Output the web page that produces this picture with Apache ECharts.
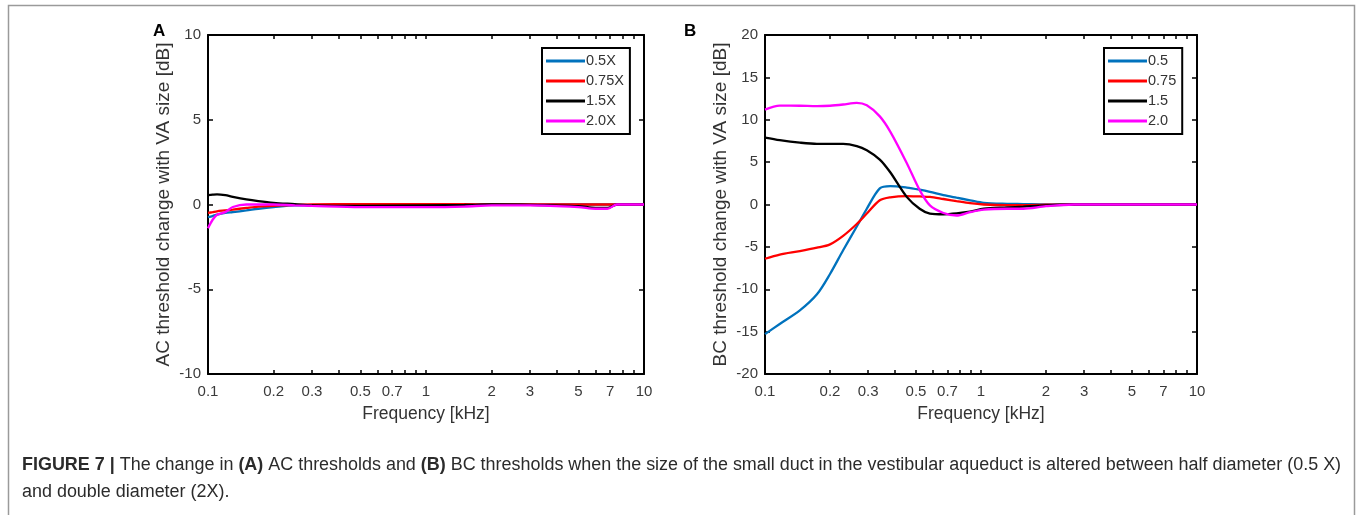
<!DOCTYPE html>
<html>
<head>
<meta charset="utf-8">
<script src="https://cdn.jsdelivr.net/npm/echarts@6/dist/echarts.min.js"></script>
<style>
  html, body { margin: 0; padding: 0; background: #fff; }
  #main { width: 1362px; height: 515px; }
</style>
</head>
<body>
<div id="main"></div>
<script>
// frequency grids (kHz)
var freqA = [0.1, 0.105, 0.11, 0.12, 0.13, 0.15, 0.17, 0.2, 0.25, 0.3, 0.5, 1, 1.5, 2, 3, 5, 6, 6.8, 7.5, 8, 10];
var freqB = [0.1, 0.117, 0.145, 0.174, 0.2, 0.23, 0.266, 0.296, 0.34, 0.38, 0.453, 0.52, 0.58, 0.67, 0.77, 0.89, 1.03, 1.32, 1.57, 2.0, 2.7, 4, 6, 10];

// panel A: AC threshold change [dB]
var acHalf   = [-0.75, -0.68, -0.6, -0.5, -0.45, -0.35, -0.25, -0.15, -0.05, -0.05, -0.05, -0.03, -0.02, 0, 0, 0, 0, 0, 0, 0, 0];
var acThreeQ = [-0.5, -0.45, -0.4, -0.35, -0.3, -0.2, -0.12, -0.08, -0.02, 0, 0.02, 0.02, 0.02, 0, 0, 0, 0, 0, 0, 0, 0];
var acOneHalf = [0.55, 0.58, 0.6, 0.55, 0.45, 0.3, 0.2, 0.1, 0.02, -0.05, -0.08, -0.05, -0.03, 0, -0.02, -0.1, -0.2, -0.2, 0, 0, 0];
var acDouble = [-1.4, -0.9, -0.6, -0.45, -0.15, 0, 0, 0, -0.05, -0.08, -0.15, -0.15, -0.12, -0.05, -0.05, -0.15, -0.25, -0.25, 0, 0, 0];

// panel B: BC threshold change [dB]
var bcHalf   = [-15.3, -14.1, -12.5, -10.6, -8.2, -5.4, -2.6, -0.5, 1.9, 2.17, 2.0, 1.75, 1.5, 1.1, 0.8, 0.5, 0.2, 0.08, 0.05, 0, 0, 0, 0, 0];
var bcThreeQ = [-6.4, -5.9, -5.5, -5.1, -4.7, -3.7, -2.3, -1.07, 0.5, 0.85, 1.0, 0.95, 0.9, 0.65, 0.4, 0.15, 0, -0.08, -0.08, -0.02, 0, 0, 0, 0];
var bcOneHalf = [7.9, 7.6, 7.3, 7.15, 7.15, 7.15, 6.9, 6.4, 5.3, 3.8, 0.9, -0.5, -1.07, -1.15, -1.05, -0.85, -0.5, -0.35, -0.25, -0.1, 0, 0, 0, 0];
var bcDouble = [11.2, 11.66, 11.65, 11.6, 11.65, 11.8, 12.0, 11.7, 10.4, 8.6, 4.9, 1.7, -0.1, -1.0, -1.3, -0.9, -0.6, -0.5, -0.5, -0.2, 0, 0, 0, 0];

var namesA = ['0.5X', '0.75X', '1.5X', '2.0X'];
var namesB = ['0.5', '0.75', '1.5', '2.0'];
var colors = ['#0072BD', '#FF0000', '#000000', '#FF00FF'];

var labelTicks = [0.1, 0.2, 0.3, 0.5, 0.7, 1, 2, 3, 5, 7, 10];
var allTicks = [0.1, 0.2, 0.3, 0.4, 0.5, 0.6, 0.7, 0.8, 0.9, 1, 2, 3, 4, 5, 6, 7, 8, 9, 10];

function pairs(xs, ys) {
    return xs.map(function (x, i) { return [x, ys[i]]; });
}

var chart = echarts.init(document.getElementById('main'));

var FONT = 'Liberation Sans, Arial, sans-serif';
var axisLine = { onZero: false, lineStyle: { color: '#000', width: 2 } };
var labelStyle = { color: '#3a3a3a', fontSize: 15, fontFamily: FONT };

function xBottom(gi) {
    return {
        type: 'log', logBase: 10, min: 0.1, max: 10, gridIndex: gi,
        position: 'bottom',
        name: 'Frequency [kHz]', nameLocation: 'middle', nameGap: 31,
        nameTextStyle: { color: '#333', fontSize: 17.5, fontFamily: FONT },
        axisLine: axisLine,
        axisTick: { inside: true, length: 4, customValues: allTicks, lineStyle: { color: '#000', width: 1.5 } },
        axisLabel: Object.assign({ customValues: labelTicks, margin: 10, formatter: function (v) { return String(+v.toPrecision(3)); } }, labelStyle),
        splitLine: { show: false }, minorTick: { show: false }
    };
}
function xTop(gi) {
    return {
        type: 'log', logBase: 10, min: 0.1, max: 10, gridIndex: gi,
        position: 'top',
        axisLine: axisLine,
        axisTick: { inside: true, length: 4, customValues: allTicks, lineStyle: { color: '#000', width: 1.5 } },
        axisLabel: { show: false },
        splitLine: { show: false }
    };
}
function yLeft(gi, lo, hi, title) {
    return {
        type: 'value', min: lo, max: hi, interval: 5, gridIndex: gi,
        position: 'left',
        name: title, nameLocation: 'middle', nameGap: 35,
        nameTextStyle: { color: '#333', fontSize: 19, fontFamily: FONT },
        axisLine: Object.assign({ show: true }, axisLine),
        axisTick: { show: true, inside: true, length: 5, lineStyle: { color: '#000', width: 1.5 } },
        axisLabel: Object.assign({ margin: 7 }, labelStyle),
        splitLine: { show: false }
    };
}
function yRight(gi, lo, hi) {
    return {
        type: 'value', min: lo, max: hi, interval: 5, gridIndex: gi,
        position: 'right',
        axisLine: Object.assign({ show: true }, axisLine),
        axisTick: { show: true, inside: true, length: 5, lineStyle: { color: '#000', width: 1.5 } },
        axisLabel: { show: false },
        splitLine: { show: false }
    };
}

function legendAt(left, names) {
    return {
        data: names, orient: 'vertical', left: left, top: 48,
        icon: 'rect', itemWidth: 39, itemHeight: 3, itemGap: 4,
        padding: [5, 6, 5, 4],
        borderColor: '#000', borderWidth: 2, backgroundColor: '#fff',
        textStyle: { color: '#333', fontSize: 14.5, lineHeight: 16, padding: [0, 0, 0, -4], fontFamily: FONT },
        selectedMode: false
    };
}

var seriesA = [acHalf, acThreeQ, acOneHalf, acDouble];
var seriesB = [bcHalf, bcThreeQ, bcOneHalf, bcDouble];
var series = [];
seriesA.forEach(function (ys, i) {
    series.push({
        name: namesA[i], type: 'line', xAxisIndex: 0, yAxisIndex: 0,
        data: pairs(freqA, ys), showSymbol: false, smooth: 0.3,
        lineStyle: { color: colors[i], width: 2.3 }, itemStyle: { color: colors[i] }
    });
});
seriesB.forEach(function (ys, i) {
    series.push({
        name: namesB[i], type: 'line', xAxisIndex: 2, yAxisIndex: 2,
        data: pairs(freqB, ys), showSymbol: false, smooth: 0.3,
        lineStyle: { color: colors[i], width: 2.3 }, itemStyle: { color: colors[i] }
    });
});

var option = {
    backgroundColor: '#fff',
    animation: false,
    grid: [
        { left: 208, top: 35, width: 436, height: 339 },
        { left: 765, top: 35, width: 432, height: 339 }
    ],
    xAxis: [xBottom(0), xTop(0), xBottom(1), xTop(1)],
    yAxis: [
        yLeft(0, -10, 10, 'AC threshold change with VA size [dB]'), yRight(0, -10, 10),
        yLeft(1, -20, 20, 'BC threshold change with VA size [dB]'), yRight(1, -20, 20)
    ],
    legend: [legendAt(542, namesA), legendAt(1104, namesB)],
    series: series,
    graphic: [
        // figure frame
        { type: 'rect', shape: { x: 8.5, y: 5.5, width: 1346, height: 520 }, style: { fill: 'none', stroke: '#9a9a9a', lineWidth: 1.5 }, silent: true },
        { type: 'text', left: 153, top: 23, style: { text: 'A', font: 'bold 17px ' + FONT, fill: '#000' } },
        { type: 'text', left: 684, top: 23, style: { text: 'B', font: 'bold 17px ' + FONT, fill: '#000' } },
        {
            type: 'text', left: 22, top: 456,
            style: {
                text: '{b|FIGURE 7 |} The change in {b|(A)} AC thresholds and {b|(B)} BC thresholds when the size of the small duct in the vestibular aqueduct is altered between half diameter (0.5 X)',
                font: '17.95px ' + FONT, fill: '#2b2b2b',
                rich: { b: { fontWeight: 'bold', fontSize: 17.95, fontFamily: FONT, fill: '#2b2b2b' } }
            }
        },
        {
            type: 'text', left: 22, top: 483,
            style: { text: 'and double diameter (2X).', font: '17.95px ' + FONT, fill: '#2b2b2b' }
        }
    ]
};

chart.setOption(option);
</script>
</body>
</html>
